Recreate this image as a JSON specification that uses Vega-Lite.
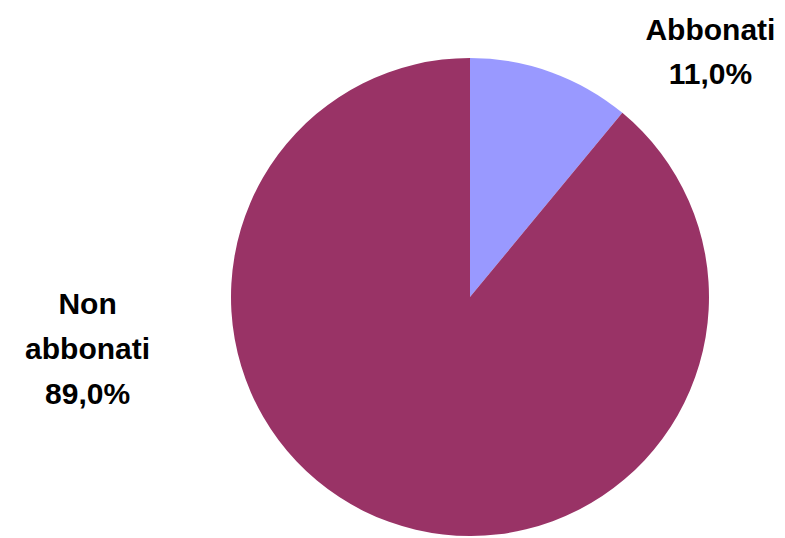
{
  "$schema": "https://vega.github.io/schema/vega-lite/v6.json",
  "width": 630,
  "height": 482,
  "autosize": {"type": "none"},
  "padding": {"left": 155, "top": 56, "right": 0, "bottom": 0},
  "background": "white",
  "config": {"view": {"stroke": null}},
  "data": {
    "values": [
      {"categoria": "Abbonati", "quota": 11.0, "etichetta": "Abbonati\n11,0%"},
      {"categoria": "Non abbonati", "quota": 89.0, "etichetta": "Non\nabbonati\n89,0%"}
    ]
  },
  "encoding": {
    "theta": {"field": "quota", "type": "quantitative", "stack": true},
    "order": {"field": "categoria", "type": "nominal"}
  },
  "layer": [
    {
      "mark": {"type": "arc", "outerRadius": 239, "stroke": null},
      "encoding": {
        "color": {
          "field": "categoria",
          "type": "nominal",
          "scale": {"domain": ["Abbonati", "Non abbonati"], "range": ["#9999FF", "#993366"]},
          "legend": null
        }
      }
    },
    {
      "mark": {"type": "text", "radius": 258, "dx": 153, "dy": -14, "align": "center", "baseline": "alphabetic", "lineBreak": "\n", "lineHeight": 44, "font": "Liberation Sans", "fontWeight": "bold", "fontSize": 30, "color": "#000000"},
      "encoding": {
        "text": {"condition": {"test": "datum.categoria === 'Abbonati'", "field": "etichetta"}, "value": ""}
      }
    },
    {
      "mark": {"type": "text", "radius": 258, "dx": -295, "dy": -226, "align": "center", "baseline": "alphabetic", "lineBreak": "\n", "lineHeight": 45, "font": "Liberation Sans", "fontWeight": "bold", "fontSize": 30, "color": "#000000"},
      "encoding": {
        "text": {"condition": {"test": "datum.categoria === 'Non abbonati'", "field": "etichetta"}, "value": ""}
      }
    }
  ]
}
